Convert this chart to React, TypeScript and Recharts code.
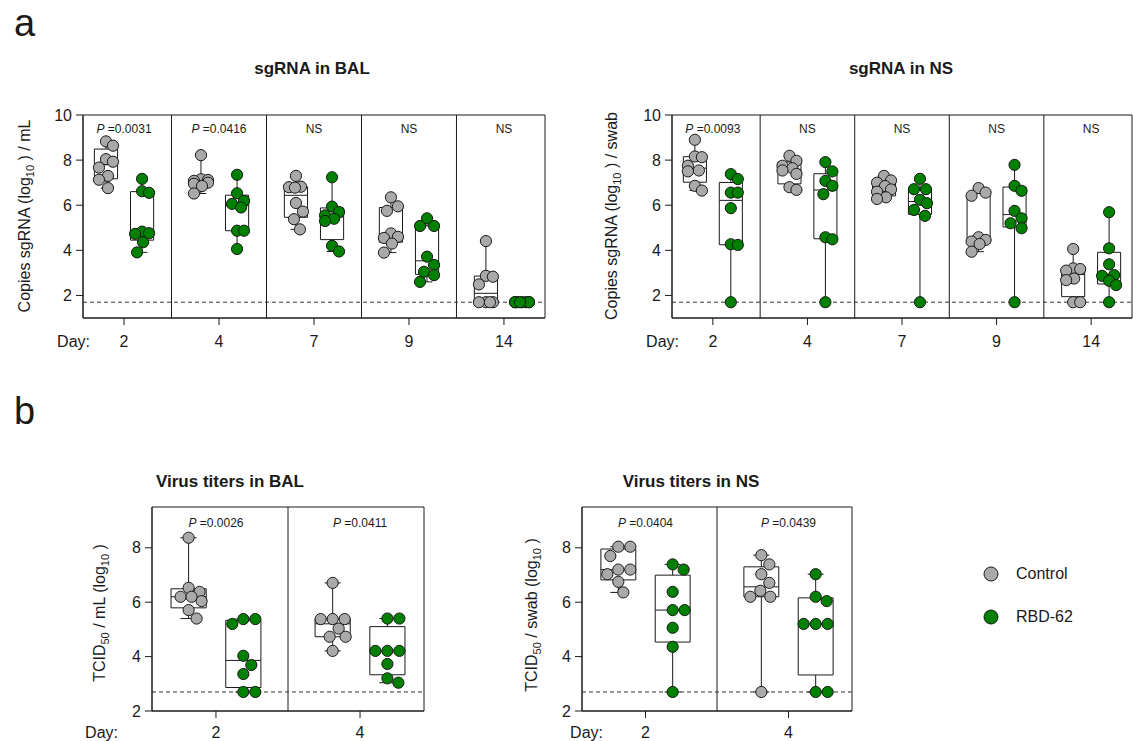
import React from 'react';
import {
  ComposedChart,
  Scatter,
  XAxis,
  YAxis,
  ReferenceLine,
  ReferenceArea,
  ReferenceDot,
  Legend,
} from 'recharts';

// ---- data (log10 values) ----
const sgDays = ['2', '4', '7', '9', '14'];
const titerDays = ['2', '4'];

const sgBalControl = [
  [8.83, 8.64, 8.04, 7.93, 7.67, 7.3, 7.13, 6.76],
  [8.22, 7.15, 7.12, 7.08, 7.0, 6.95, 6.85, 6.52],
  [7.3, 6.82, 6.8, 6.78, 6.1, 5.72, 5.38, 4.93],
  [6.35, 5.95, 5.75, 4.75, 4.6, 4.55, 4.3, 3.9],
  [4.41, 2.87, 2.83, 2.49, 1.7, 1.7, 1.7, 1.7],
];
const sgBalRbd = [
  [7.17, 6.62, 6.55, 4.83, 4.76, 4.73, 4.36, 3.91],
  [7.35, 6.53, 6.19, 6.06, 5.9, 4.87, 4.87, 4.06],
  [7.24, 5.94, 5.7, 5.55, 5.4, 5.3, 4.2, 3.95],
  [5.42, 5.08, 5.08, 3.72, 3.35, 3.05, 2.9, 2.6],
  [1.7, 1.7, 1.7, 1.7, 1.7, 1.7, 1.7, 1.7],
];
const sgNsControl = [
  [8.9, 8.16, 8.13, 7.75, 7.54, 7.5, 6.86, 6.65],
  [8.19, 7.97, 7.75, 7.64, 7.54, 7.39, 6.8, 6.68],
  [7.3, 7.1, 7.0, 6.85, 6.7, 6.6, 6.35, 6.28],
  [6.76, 6.56, 6.42, 4.58, 4.46, 4.39, 4.28, 3.94],
  [4.06, 3.2, 3.17, 3.1, 2.75, 2.68, 1.7, 1.7],
];
const sgNsRbd = [
  [7.38, 7.16, 6.56, 6.56, 5.87, 4.27, 4.24, 1.7],
  [7.91, 7.5, 7.08, 6.86, 6.49, 4.58, 4.49, 1.7],
  [7.17, 6.71, 6.71, 6.24, 6.09, 5.79, 5.53, 1.7],
  [7.79, 6.86, 6.64, 5.75, 5.42, 5.2, 4.98, 1.7],
  [5.69, 4.09, 3.38, 2.9, 2.87, 2.65, 2.46, 1.7],
];
const titerBalControl = [
  [8.37, 6.53, 6.38, 6.2, 6.2, 6.04, 5.71, 5.4],
  [6.71, 5.38, 5.38, 5.38, 5.03, 4.73, 4.73, 4.21],
];
const titerBalRbd = [
  [5.38, 5.38, 5.2, 4.03, 3.69, 3.36, 2.7, 2.7],
  [5.4, 5.4, 4.21, 4.21, 4.21, 3.73, 3.2, 3.04],
];
const titerNsControl = [
  [8.04, 8.04, 7.7, 7.2, 7.2, 7.03, 6.75, 6.36],
  [7.73, 7.39, 7.03, 6.71, 6.42, 6.2, 6.2, 2.7],
];
const titerNsRbd = [
  [7.39, 7.2, 6.38, 5.71, 5.71, 5.06, 4.36, 2.7],
  [7.03, 6.2, 6.04, 5.2, 5.2, 5.2, 2.7, 2.7],
];

const sgBalP = [0.0031, 0.0416, null, null, null];
const sgNsP = [0.0093, null, null, null, null];
const titerBalP = [0.0026, 0.0411];
const titerNsP = [0.0404, 0.0439];

const sgLod = 1.7;
const titerLod = 2.7;

const CONTROL_COLOR = '#a9a9a9';
const RBD_COLOR = '#008000';
const INK = '#1a1a1a';
const FONT = '"Liberation Sans", Arial, sans-serif';

const Y_AXIS_W = 40;
const X_AXIS_H = 30;
const R = 5.6;
const GROUP_OFF = 0.19;
const BOX_HALF = 0.122;
const CAP_HALF = 0.056;

function quantile(sorted: number[], p: number) {
  const n = sorted.length;
  const pos = (n + 1) * p;
  const lo = Math.floor(pos);
  if (lo < 1) return sorted[0];
  if (lo >= n) return sorted[n - 1];
  return sorted[lo - 1] + (pos - lo) * (sorted[lo] - sorted[lo - 1]);
}

// simple beeswarm: horizontal pixel offsets so the dots don't pile up
function swarm(values: number[], pxY: number, maxHalf: number) {
  const placed: { x: number; y: number }[] = [];
  const D = 2 * R + 0.5;
  return values.map((v) => {
    const y = v * pxY;
    let best = 0;
    let bestCost = Infinity;
    for (let k = 0; k <= 2 * maxHalf; k++) {
      const off = k === 0 ? 0 : (k % 2 ? 1 : -1) * Math.ceil(k / 2);
      let cost = Math.abs(off) * 0.01;
      for (const q of placed) {
        const d = Math.hypot(q.x - off, q.y - y);
        if (d < D) cost += (D - d) * (D - d);
      }
      if (cost < bestCost - 1e-9) {
        bestCost = cost;
        best = off;
      }
    }
    placed.push({ x: best, y });
    return best;
  });
}

const PLabel = (props: any) => {
  const { viewBox, p } = props;
  const x = viewBox.x + (viewBox.width || 0) / 2;
  const y = viewBox.y + (viewBox.height || 0) / 2;
  return (
    <text x={x} y={y} textAnchor="middle" dominantBaseline="central" fontSize={12} fill={INK}>
      {p == null ? (
        'NS'
      ) : (
        <>
          <tspan fontStyle="italic">P</tspan>
          <tspan>{' =' + p.toFixed(4)}</tspan>
        </>
      )}
    </text>
  );
};

const LegendContent = (props: any) => (
  <div>
    {(props.payload || []).map((e: any) => (
      <div key={e.value} style={{ display: 'flex', alignItems: 'center', height: 43 }}>
        <svg width={16} height={16}>
          <circle cx={8} cy={8} r={7} fill={e.color} stroke={INK} strokeWidth={1} />
        </svg>
        <span style={{ marginLeft: 17, fontSize: 16, color: INK, fontFamily: FONT }}>{e.value}</span>
      </div>
    ))}
  </div>
);

interface PanelProps {
  days: string[];
  control: number[][];
  rbd: number[][];
  pvals: (number | null)[];
  lod: number;
  yDomain: [number, number];
  yTicks: number[];
  xDomain: [number, number];
  width: number;
  height: number;
  margin: { top: number; right: number; bottom: number; left: number };
  pY: number;
  tickMargin: number;
  maxHalf: number;
  showLegend?: boolean;
}

function Panel(props: PanelProps) {
  const { days, control, rbd, pvals, lod, yDomain, yTicks, xDomain, width, height, margin, pY, tickMargin, maxHalf, showLegend } = props;
  const plotH = height - margin.top - margin.bottom - X_AXIS_H;
  const pxY = plotH / (yDomain[1] - yDomain[0]);

  const build = (series: number[][], side: number) =>
    series.map((values, i) => {
      const c = i + side * GROUP_OFF;
      const dx = swarm(values, pxY, maxHalf);
      const sorted = [...values].sort((a, b) => a - b);
      return {
        c,
        pts: values.map((v, j) => ({ x: c, y: v, dx: dx[j] })),
        min: sorted[0],
        max: sorted[sorted.length - 1],
        q1: quantile(sorted, 0.25),
        med: quantile(sorted, 0.5),
        q3: quantile(sorted, 0.75),
      };
    });

  const groups = [...build(control, -1), ...build(rbd, 1)];
  const controlPts = groups.slice(0, control.length).flatMap((g) => g.pts);
  const rbdPts = groups.slice(control.length).flatMap((g) => g.pts);

  const line = { stroke: INK, strokeWidth: 1 };
  const boxEls: React.ReactElement[] = [];
  groups.forEach((g, k) => {
    boxEls.push(
      <ReferenceLine key={`wl${k}`} segment={[{ x: g.c, y: g.min }, { x: g.c, y: g.q1 }]} {...line} />,
      <ReferenceLine key={`wh${k}`} segment={[{ x: g.c, y: g.q3 }, { x: g.c, y: g.max }]} {...line} />,
      <ReferenceLine key={`cl${k}`} segment={[{ x: g.c - CAP_HALF, y: g.min }, { x: g.c + CAP_HALF, y: g.min }]} {...line} />,
      <ReferenceLine key={`ch${k}`} segment={[{ x: g.c - CAP_HALF, y: g.max }, { x: g.c + CAP_HALF, y: g.max }]} {...line} />,
      <ReferenceArea key={`bx${k}`} x1={g.c - BOX_HALF} x2={g.c + BOX_HALF} y1={g.q1} y2={g.q3} fill="none" fillOpacity={0} stroke={INK} strokeWidth={1} />,
      <ReferenceLine key={`md${k}`} segment={[{ x: g.c - BOX_HALF, y: g.med }, { x: g.c + BOX_HALF, y: g.med }]} {...line} />,
    );
  });

  const dot = (color: string) => (p: any) => (
    <circle cx={p.cx + (p.payload?.dx ?? 0)} cy={p.cy} r={R} fill={color} stroke={INK} strokeWidth={1} />
  );

  return (
    <ComposedChart width={width} height={height} margin={margin}>
      <XAxis
        type="number"
        dataKey="x"
        domain={xDomain}
        allowDataOverflow
        ticks={days.map((_, i) => i)}
        interval={0}
        tickFormatter={(v: number) => days[v] ?? ''}
        height={X_AXIS_H}
        tickSize={7}
        tickMargin={tickMargin}
        tick={{ fontSize: 16, fill: INK }}
        axisLine={{ stroke: INK }}
        tickLine={{ stroke: INK }}
      />
      <YAxis
        type="number"
        dataKey="y"
        domain={yDomain}
        allowDataOverflow
        ticks={yTicks}
        interval={0}
        width={Y_AXIS_W}
        tickSize={7}
        tickMargin={4}
        tick={{ fontSize: 16, fill: INK }}
        axisLine={{ stroke: INK }}
        tickLine={{ stroke: INK }}
      />
      <ReferenceArea x1={xDomain[0]} x2={xDomain[1]} y1={yDomain[0]} y2={yDomain[1]} fill="none" fillOpacity={0} stroke={INK} strokeWidth={1} />
      {days.slice(1).map((_, i) => (
        <ReferenceLine key={`sep${i}`} x={i + 0.5} stroke={INK} strokeWidth={1} />
      ))}
      <ReferenceLine y={lod} stroke="#333" strokeWidth={1} strokeDasharray="4 3" />
      {boxEls}
      <Scatter name="Control" data={controlPts} fill={CONTROL_COLOR} shape={dot(CONTROL_COLOR)} isAnimationActive={false} />
      <Scatter name="RBD-62" data={rbdPts} fill={RBD_COLOR} shape={dot(RBD_COLOR)} isAnimationActive={false} />
      {pvals.map((p, i) => (
        <ReferenceDot key={`p${i}`} x={i} y={pY} r={1} fill="none" stroke="none" label={<PLabel p={p} />} />
      ))}
      {showLegend && (
        <Legend
          layout="vertical"
          align="center"
          verticalAlign="middle"
          content={LegendContent}
          wrapperStyle={{ position: 'absolute', left: 483, top: 62, width: 140, height: 90 }}
        />
      )}
    </ComposedChart>
  );
}

const Sub = ({ children }: { children: React.ReactNode }) => (
  <>
    <tspan dy={4} fontSize={11}>{children}</tspan>
    <tspan dy={-4}> </tspan>
  </>
);

export default function App() {
  const aMargin = { top: 15, right: 15, bottom: 12, left: 43 };
  const aMarginR = { top: 15, right: 1, bottom: 12, left: 43 };
  const bMargin = { top: 17, right: 16, bottom: 0, left: 42 };
  const bMarginR = { top: 17, right: 281, bottom: 0, left: 42 };
  return (
    <div style={{ position: 'absolute', left: 0, top: 0, width: 1133, height: 741, background: '#fff', fontFamily: FONT, overflow: 'hidden' }}>
      <div style={{ position: 'absolute', left: 0, top: 100 }}>
        <Panel days={sgDays} control={sgBalControl} rbd={sgBalRbd} pvals={sgBalP} lod={sgLod}
          yDomain={[1, 10]} yTicks={[2, 4, 6, 8, 10]} xDomain={[-0.432, 4.432]}
          width={560} height={260} margin={aMargin} pY={9.38} tickMargin={11} maxHalf={7} />
      </div>
      <div style={{ position: 'absolute', left: 589, top: 100 }}>
        <Panel days={sgDays} control={sgNsControl} rbd={sgNsRbd} pvals={sgNsP} lod={sgLod}
          yDomain={[1, 10]} yTicks={[2, 4, 6, 8, 10]} xDomain={[-0.432, 4.432]}
          width={544} height={260} margin={aMarginR} pY={9.38} tickMargin={11} maxHalf={7} />
      </div>
      <div style={{ position: 'absolute', left: 70, top: 490 }}>
        <Panel days={titerDays} control={titerBalControl} rbd={titerBalRbd} pvals={titerBalP} lod={titerLod}
          yDomain={[2, 9.5]} yTicks={[2, 4, 6, 8]} xDomain={[-0.444, 1.444]}
          width={370} height={251} margin={bMargin} pY={8.91} tickMargin={9} maxHalf={13} />
      </div>
      <div style={{ position: 'absolute', left: 500, top: 490 }}>
        <Panel days={titerDays} control={titerNsControl} rbd={titerNsRbd} pvals={titerNsP} lod={titerLod}
          yDomain={[2, 9.5]} yTicks={[2, 4, 6, 8]} xDomain={[-0.444, 1.444]}
          width={633} height={251} margin={bMarginR} pY={8.91} tickMargin={9} maxHalf={13} showLegend />
      </div>

      <svg width={1133} height={741} style={{ position: 'absolute', left: 0, top: 0, pointerEvents: 'none' }} fontFamily={FONT} fill={INK}>
        <text x={14} y={36} fontSize={38}>a</text>
        <text x={14} y={424} fontSize={38}>b</text>

        <text x={312} y={74} fontSize={17} fontWeight="bold" textAnchor="middle">sgRNA in BAL</text>
        <text x={901} y={74} fontSize={17} fontWeight="bold" textAnchor="middle">sgRNA in NS</text>
        <text x={230} y={487} fontSize={17} fontWeight="bold" textAnchor="middle">Virus titers in BAL</text>
        <text x={691} y={487} fontSize={17} fontWeight="bold" textAnchor="middle">Virus titers in NS</text>

        <text transform="translate(30,216) rotate(-90)" fontSize={16} textAnchor="middle">
          Copies sgRNA (log<Sub>10</Sub>) / mL
        </text>
        <text transform="translate(617,216) rotate(-90)" fontSize={16} textAnchor="middle">
          Copies sgRNA (log<Sub>10</Sub>) / swab
        </text>
        <text transform="translate(105,613) rotate(-90)" fontSize={16} textAnchor="middle">
          TCID<Sub>50</Sub>/ mL (log<Sub>10</Sub>)
        </text>
        <text transform="translate(537,615) rotate(-90)" fontSize={16} textAnchor="middle">
          TCID<Sub>50</Sub>/ swab (log<Sub>10</Sub>)
        </text>

        <text x={90} y={347} fontSize={16} textAnchor="end">Day:</text>
        <text x={679} y={347} fontSize={16} textAnchor="end">Day:</text>
        <text x={118} y={738} fontSize={16} textAnchor="end">Day:</text>
        <text x={603} y={738} fontSize={16} textAnchor="end">Day:</text>
      </svg>
    </div>
  );
}
